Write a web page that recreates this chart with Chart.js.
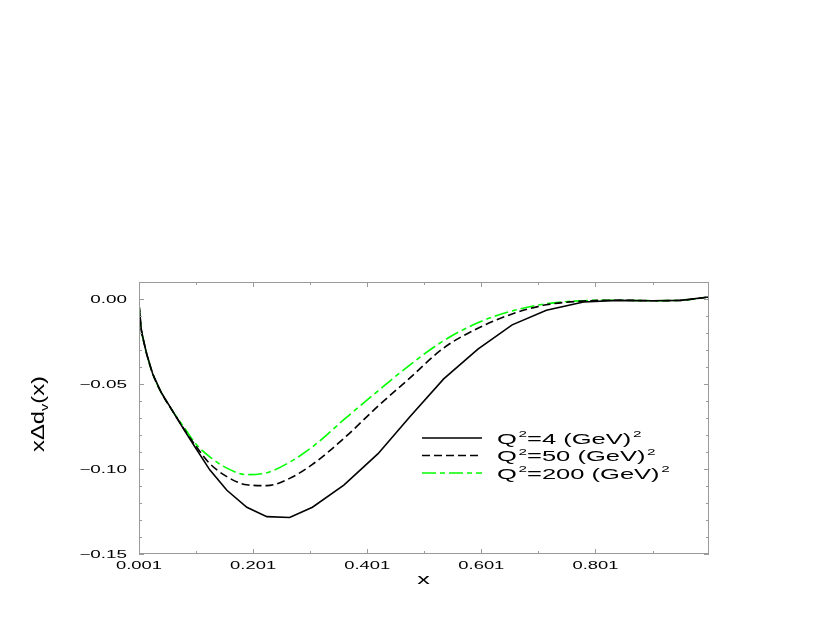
<!DOCTYPE html>
<html>
<head>
<meta charset="utf-8">
<script src="https://cdn.jsdelivr.net/npm/chart.js@4/dist/chart.umd.min.js"></script>
<style>
  html, body { margin: 0; padding: 0; background: #ffffff; }
  #c { display: block; }
</style>
</head>
<body>
<canvas id="c" width="830" height="623"></canvas>
<script>
// ---- data ----
const xValues = [0.001, 0.005, 0.01, 0.015, 0.025, 0.04, 0.06, 0.08, 0.1, 0.125, 0.155, 0.19, 0.225, 0.265, 0.305, 0.36, 0.42, 0.475, 0.535, 0.595, 0.655, 0.715, 0.78, 0.84, 0.9, 0.95, 1.0];
const q4   = [-0.003, -0.018, -0.026, -0.033, -0.044, -0.055, -0.066, -0.077, -0.0875, -0.1005, -0.1125, -0.1225, -0.128, -0.1285, -0.1225, -0.1095, -0.091, -0.0695, -0.047, -0.0295, -0.0152, -0.0066, -0.0018, -0.0008, -0.0010, -0.0008, 0.0012];
const q50  = [-0.003, -0.018, -0.026, -0.033, -0.044, -0.055, -0.066, -0.0765, -0.0862, -0.0968, -0.1045, -0.1093, -0.1098, -0.1055, -0.0973, -0.082, -0.063, -0.0467, -0.0288, -0.0172, -0.0088, -0.0034, -0.0012, -0.0007, -0.0010, -0.0008, 0.0012];
const q200 = [-0.003, -0.018, -0.026, -0.033, -0.044, -0.055, -0.066, -0.0755, -0.085, -0.0928, -0.0995, -0.1033, -0.1022, -0.096, -0.087, -0.071, -0.054, -0.039, -0.0245, -0.014, -0.007, -0.0028, -0.0010, -0.0007, -0.0010, -0.0008, 0.0012];
const seriesLabels = ['Q²=4 (GeV)²', 'Q²=50 (GeV)²', 'Q²=200 (GeV)²'];

const xTickValues = [0.001, 0.201, 0.401, 0.601, 0.801];
const xTickLabels = ['0.001', '0.201', '0.401', '0.601', '0.801'];
const xMinorTicks = [0.101, 0.301, 0.501, 0.701, 0.901];
const yTickValues = [0, -0.05, -0.10, -0.15];
const yTickLabels = ['0.00', '−0.05', '−0.10', '−0.15'];
const yMinorTicks = [-0.01, -0.02, -0.03, -0.04, -0.06, -0.07, -0.08, -0.09, -0.11, -0.12, -0.13, -0.14];
const xTitle = 'x';
const yTitleParts = ['xΔd', 'v', '(x)'];

// ---- helpers ----
const FONT = '"Liberation Sans", Arial, Helvetica, sans-serif';
function toPoints(ys) { return xValues.map((x, i) => ({ x: x, y: ys[i] })); }

function drawStretched(ctx, text, x, y, align, sx, size) {
  ctx.save();
  ctx.translate(x, y);
  ctx.scale(sx, 1);
  ctx.font = size + 'px ' + FONT;
  ctx.textAlign = align;
  ctx.textBaseline = 'alphabetic';
  ctx.fillText(text, 0, 0);
  ctx.restore();
}

// draws text with "²" rendered as a raised small 2, starting at x (left aligned)
function drawSuperText(ctx, text, x, y, sx, size) {
  ctx.save();
  ctx.translate(x, y);
  ctx.scale(sx, 1);
  ctx.textAlign = 'left';
  ctx.textBaseline = 'alphabetic';
  let cx = 0;
  let buf = '';
  const flush = () => {
    if (!buf) return;
    ctx.font = size + 'px ' + FONT;
    ctx.fillText(buf, cx, 0);
    cx += ctx.measureText(buf).width;
    buf = '';
  };
  for (const ch of text) {
    if (ch === '²') {
      flush();
      const s = Math.round(size * 0.6);
      ctx.font = s + 'px ' + FONT;
      ctx.fillText('2', cx + 1, -size * 0.42);
      cx += ctx.measureText('2').width + 1;
    } else {
      buf += ch;
    }
  }
  flush();
  ctx.restore();
}

const decorPlugin = {
  id: 'decor',
  afterDraw(chart) {
    const ctx = chart.ctx;
    const xs = chart.scales.x, ys = chart.scales.y;
    const a = chart.chartArea;
    ctx.save();
    // frame
    ctx.strokeStyle = '#9a9a9a';
    ctx.lineWidth = 1;
    ctx.strokeRect(a.left + 0.5, a.top + 0.5, a.right - a.left - 1, a.bottom - a.top - 1);
    // inward ticks
    ctx.beginPath();
    const tickX = (v, len) => {
      const px = Math.round(xs.getPixelForValue(v)) + 0.5;
      ctx.moveTo(px, a.bottom); ctx.lineTo(px, a.bottom - len);
      ctx.moveTo(px, a.top); ctx.lineTo(px, a.top + len);
    };
    const tickY = (v, len) => {
      const py = Math.round(ys.getPixelForValue(v)) + 0.5;
      ctx.moveTo(a.left, py); ctx.lineTo(a.left + len, py);
      ctx.moveTo(a.right, py); ctx.lineTo(a.right - len, py);
    };
    xTickValues.forEach(v => tickX(v, 5));
    xMinorTicks.forEach(v => tickX(v, 3));
    yTickValues.forEach(v => tickY(v, 5));
    yMinorTicks.forEach(v => tickY(v, 3));
    ctx.stroke();

    // tick labels
    ctx.fillStyle = '#000000';
    xTickValues.forEach((v, i) => {
      drawStretched(ctx, xTickLabels[i], xs.getPixelForValue(v), a.bottom + 15, 'center', 1.75, 10.5);
    });
    yTickValues.forEach((v, i) => {
      drawStretched(ctx, yTickLabels[i], a.left - 12, ys.getPixelForValue(v) + 3.8, 'right', 1.8, 10.5);
    });

    // axis titles
    drawStretched(ctx, xTitle, (a.left + a.right) / 2 - 0.5, a.bottom + 30, 'center', 1.8, 14);

    // y title, rotated, with subscript v
    ctx.save();
    ctx.translate(44, 414);
    ctx.rotate(-Math.PI / 2);
    ctx.scale(1.32, 1);
    ctx.textBaseline = 'alphabetic';
    ctx.textAlign = 'left';
    const big = '18px ' + FONT, small = '11px ' + FONT;
    ctx.font = big; const w1 = ctx.measureText(yTitleParts[0]).width;
    ctx.font = small; const w2 = ctx.measureText(yTitleParts[1]).width;
    ctx.font = big; const w3 = ctx.measureText(yTitleParts[2]).width;
    let sx0 = -(w1 + w2 + w3) / 2;
    ctx.font = big; ctx.fillText(yTitleParts[0], sx0, 0);
    ctx.font = small; ctx.fillText(yTitleParts[1], sx0 + w1, 4);
    ctx.font = big; ctx.fillText(yTitleParts[2], sx0 + w1 + w2, 0);
    ctx.restore();

    // legend
    const rows = [438, 455.5, 473];
    chart.data.datasets.forEach((ds, i) => {
      const y = rows[i];
      ctx.save();
      ctx.strokeStyle = ds.borderColor;
      ctx.lineWidth = ds.borderWidth;
      ctx.setLineDash(ds.borderDash || []);
      ctx.beginPath();
      ctx.moveTo(422, y); ctx.lineTo(482, y);
      ctx.stroke();
      ctx.restore();
      ctx.fillStyle = '#000000';
      drawSuperText(ctx, ds.label, 497, y + 5.5, 1.7, 15);
    });
    ctx.restore();
  }
};

new Chart(document.getElementById('c'), {
  type: 'line',
  data: {
    datasets: [
      { label: seriesLabels[0], data: toPoints(q4), borderColor: '#000000', borderWidth: 1.6, pointRadius: 0, fill: false, tension: 0 },
      { label: seriesLabels[1], data: toPoints(q50), borderColor: '#000000', borderWidth: 1.6, borderDash: [8, 4], pointRadius: 0, fill: false, cubicInterpolationMode: 'monotone' },
      { label: seriesLabels[2], data: toPoints(q200), borderColor: '#00ff00', borderWidth: 1.6, borderDash: [14, 4, 5, 4], pointRadius: 0, fill: false, cubicInterpolationMode: 'monotone' }
    ]
  },
  options: {
    responsive: false,
    devicePixelRatio: 1,
    animation: false,
    events: [],
    layout: { padding: { top: 282, right: 121, left: 0, bottom: 0 } },
    plugins: { legend: { display: false }, tooltip: { enabled: false }, title: { display: false } },
    scales: {
      x: {
        type: 'linear', min: 0.001, max: 1.0,
        grid: { display: false }, border: { display: false },
        ticks: { display: false },
        afterFit(s) { s.height = 69; }
      },
      y: {
        type: 'linear', min: -0.15, max: 0.01,
        grid: { display: false }, border: { display: false },
        ticks: { display: false },
        afterFit(s) { s.width = 139; }
      }
    }
  },
  plugins: [decorPlugin]
});
</script>
</body>
</html>
